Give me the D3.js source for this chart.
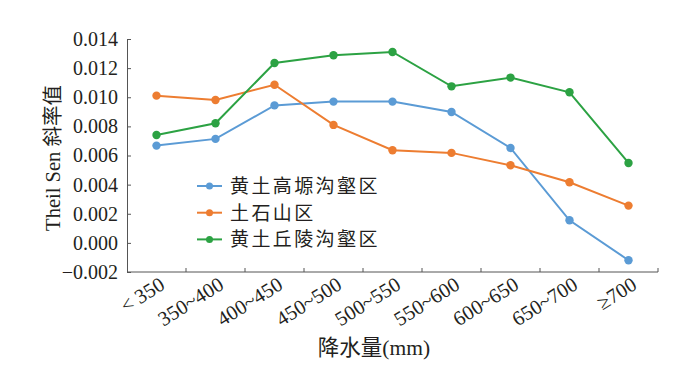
<!doctype html>
<html>
<head>
<meta charset="utf-8">
<script src="https://d3js.org/d3.v7.min.js"></script>
<style>
  body { margin: 0; background: #fff; }
  text { font-family: "Liberation Serif", "Noto Sans CJK SC", serif; fill: #231f20; }
</style>
</head>
<body>
<svg id="chart" width="689" height="366"></svg>
<script>
  var categories = ['< 350', '350~400', '400~450', '450~500', '500~550', '550~600', '600~650', '650~700', '≥700'];
  var yTicks = [-0.002, 0, 0.002, 0.004, 0.006, 0.008, 0.010, 0.012, 0.014];
  var loessPlateau = [0.00668, 0.00714, 0.00944, 0.00970, 0.00970, 0.00899, 0.00652, 0.00155, -0.00119];
  var rockyMountain = [0.01011, 0.00981, 0.01086, 0.00810, 0.00636, 0.00618, 0.00533, 0.00416, 0.00256];
  var loessHilly = [0.00741, 0.00821, 0.01235, 0.01288, 0.01311, 0.01075, 0.01135, 0.01034, 0.00549];
  var seriesNames = ['黄土高塬沟壑区', '土石山区', '黄土丘陵沟壑区'];
  var colors = ['#5b9bd5', '#ed7d31', '#2ca243'];

  var series = [loessPlateau, rockyMountain, loessHilly];

  var svg = d3.select('#chart');
  var plotLeft = 127, plotRight = 658, plotTop = 39, plotBottom = 272;

  var xScale = d3.scaleBand()
    .domain(categories)
    .range([plotLeft, plotRight]);

  var yScale = d3.scaleLinear()
    .domain([-0.002, 0.014])
    .range([plotBottom, plotTop]);

  // y axis
  var yAxis = d3.axisLeft(yScale)
    .tickValues(yTicks)
    .tickFormat(d3.format('.3f'))
    .tickSizeInner(-4)
    .tickSizeOuter(0)
    .tickPadding(9);

  var yG = svg.append('g')
    .attr('transform', 'translate(' + plotLeft + ',0)')
    .call(yAxis);
  yG.selectAll('text')
    .style('font-size', '20px')
    .text(d => d < 0 ? '\u2212' + d3.format('.3f')(-d) : d3.format('.3f')(d));

  // x axis with ticks on band edges
  var xG = svg.append('g')
    .attr('transform', 'translate(0,' + plotBottom + ')');
  xG.append('line')
    .attr('x1', plotLeft).attr('x2', plotRight)
    .attr('y1', 0).attr('y2', 0);
  xG.selectAll('line.tick')
    .data(categories)
    .enter()
    .append('line')
    .attr('class', 'tick')
    .attr('x1', d => xScale(d) + xScale.bandwidth())
    .attr('x2', d => xScale(d) + xScale.bandwidth())
    .attr('y1', 0).attr('y2', -4);
  xG.selectAll('text')
    .data(categories)
    .enter()
    .append('text')
    .attr('transform', d => 'translate(' + (xScale(d) + xScale.bandwidth() / 2 + 2) + ',4) rotate(-32)')
    .attr('text-anchor', 'end')
    .attr('dy', '0.7em')
    .style('font-size', '20.5px')
    .text(d => d);

  svg.selectAll('.domain, line').style('stroke', '#555').style('stroke-width', 1);

  // axis titles
  svg.append('text')
    .attr('transform', 'translate(60,158) rotate(-90)')
    .attr('text-anchor', 'middle')
    .style('font-size', '20.5px')
    .text('Theil Sen 斜率值');

  svg.append('text')
    .attr('x', 374)
    .attr('y', 355)
    .attr('text-anchor', 'middle')
    .style('font-size', '21.5px')
    .text('降水量(mm)');

  // lines and points
  var line = d3.line()
    .x((d, i) => xScale(categories[i]) + xScale.bandwidth() / 2)
    .y(d => yScale(d));

  series.forEach(function(values, s) {
    svg.append('path')
      .datum(values)
      .attr('d', line)
      .style('fill', 'none')
      .style('stroke', colors[s])
      .style('stroke-width', 2);

    svg.selectAll('circle.s' + s)
      .data(values)
      .enter()
      .append('circle')
      .attr('class', 's' + s)
      .attr('r', 4.2)
      .attr('cx', (d, i) => xScale(categories[i]) + xScale.bandwidth() / 2)
      .attr('cy', d => yScale(d))
      .style('fill', colors[s]);
  });

  // legend
  var legend = svg.append('g')
    .attr('transform', 'translate(197,186)');
  seriesNames.forEach(function(name, s) {
    var g = legend.append('g').attr('transform', 'translate(0,' + s * 26.7 + ')');
    g.append('line')
      .attr('x1', 0).attr('x2', 25)
      .style('stroke', colors[s])
      .style('stroke-width', 2);
    g.append('circle')
      .attr('cx', 12.5)
      .attr('r', 3.5)
      .style('fill', colors[s]);
    g.append('text')
      .attr('x', 33)
      .attr('dy', '0.36em')
      .style('font-size', '19px')
      .style('letter-spacing', '2.4px')
      .text(name);
  });
</script>
</body>
</html>
